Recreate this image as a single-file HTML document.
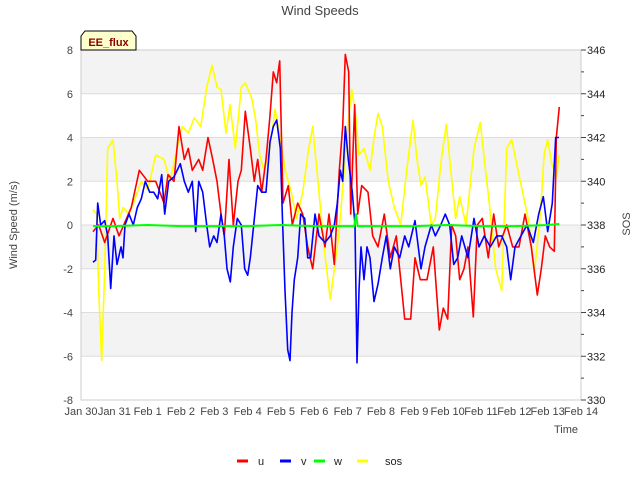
<!DOCTYPE html>
<html><head><meta charset="utf-8"><style>
body{margin:0;background:#fff;}
svg{display:block;font-family:"Liberation Sans","DejaVu Sans",sans-serif;}
</style></head><body>
<svg id="chart" width="640" height="480" xmlns="http://www.w3.org/2000/svg">
<text x="320" y="15" text-anchor="middle" font-size="13" fill="#444">Wind Speeds</text>
<g id="bands"></g><g id="grid"></g>
<rect x="81" y="50" width="500" height="350" fill="none" stroke="#ccc"/>
<g id="axes"></g>
<g id="series"></g>
<g>
<path d="M81,36 L85,31 L132,31 L136,36 L136,50 L81,50 Z" fill="#ffffcc" stroke="#000" stroke-width="1"/>
<text x="108.5" y="46" text-anchor="middle" font-size="11" font-weight="bold" fill="#8b0000">EE_flux</text>
</g>
<text transform="translate(17,225) rotate(-90)" text-anchor="middle" font-size="11" fill="#444">Wind Speed (m/s)</text>
<text transform="translate(630,224) rotate(-90)" text-anchor="middle" font-size="11" fill="#444">SOS</text>
<text x="578" y="433" text-anchor="end" font-size="11" fill="#444">Time</text>
<g id="legend"></g>
</svg>
<script>
const xTickLabels=["Jan 30","Jan 31","Feb 1","Feb 2","Feb 3","Feb 4","Feb 5","Feb 6","Feb 7","Feb 8","Feb 9","Feb 10","Feb 11","Feb 12","Feb 13","Feb 14"];
const yTicks=[-8,-6,-4,-2,0,2,4,6,8];
const y2Ticks=[330,332,334,336,338,340,342,344,346];
const uT=[.36,.53,.71,.96,1.14,1.51,1.75,2.0,2.24,2.49,2.61,2.79,2.94,3.10,3.22,3.34,3.53,3.65,3.81,3.95,4.08,4.20,4.30,4.44,4.57,4.71,4.81,4.93,5.08,5.20,5.30,5.42,5.55,5.67,5.77,5.87,5.96,6.06,6.22,6.34,6.50,6.65,6.80,6.95,7.14,7.32,7.44,7.60,7.75,7.85,7.93,8.03,8.09,8.21,8.30,8.42,8.61,8.75,8.91,9.10,9.28,9.46,9.71,9.89,10.02,10.18,10.38,10.57,10.75,10.87,11.0,11.12,11.24,11.36,11.49,11.61,11.77,11.89,12.04,12.22,12.38,12.53,12.77,12.95,13.14,13.32,13.51,13.69,13.81,13.93,14.06,14.20,14.26,14.35];
const uV=[-0.3,0,-0.8,0.3,-0.5,0.8,2.5,2,2,1,2.3,2,4.5,3,3.5,2.5,3,2.5,4,3,2,0.5,-0.5,3,0,2,2.5,5.2,3.5,2,3,1.5,3,5,7,6.5,7.5,1,1.8,0,1,0.5,-1,-2,0.5,-1,0.5,-1.8,2.5,4.5,7.8,7,0.5,5.5,0.5,1.8,1.5,-0.5,-1,0.5,-1.5,-0.5,-4.3,-4.3,-1.5,-2.5,-2.5,-1,-4.8,-3.8,-4.3,0,-0.5,-2.5,-2,-1,-4.2,0,0.3,-1.5,0.5,-1,0,-1,-1,0.5,-1,-3.2,-2,-0.5,-1,-1.2,4,5.4];
const vT=[.36,.44,.50,.59,.71,.80,.89,.99,1.08,1.20,1.26,1.32,1.44,1.57,1.69,1.81,1.93,2.06,2.18,2.30,2.42,2.51,2.63,2.79,2.98,3.10,3.22,3.34,3.44,3.53,3.65,3.77,3.86,3.98,4.08,4.20,4.30,4.38,4.48,4.57,4.69,4.81,4.91,5.00,5.08,5.18,5.30,5.42,5.55,5.67,5.77,5.87,5.98,6.04,6.12,6.20,6.27,6.33,6.40,6.50,6.59,6.71,6.80,6.89,7.02,7.14,7.32,7.48,7.60,7.69,7.78,7.85,7.93,8.02,8.14,8.22,8.28,8.34,8.40,8.49,8.58,8.67,8.79,8.91,9.04,9.16,9.28,9.40,9.56,9.71,9.83,10.02,10.20,10.32,10.51,10.63,10.79,10.93,11.06,11.18,11.30,11.42,11.61,11.79,11.94,12.10,12.28,12.47,12.62,12.77,12.89,13.02,13.20,13.38,13.57,13.73,13.87,14.00,14.14,14.24,14.34];
const vV=[-1.7,-1.6,1,0,0.2,-0.5,-2.9,-0.5,-1.8,-1,-1.5,0,0.5,0,0.8,1.2,2,1.5,1.5,1.2,2.3,0.5,2,2.2,2.8,2,1.5,2,-0.3,2,1.5,0,-1,-0.5,-0.8,0.5,-0.5,-2,-2.6,-1,0.3,0,-2,-2.3,-1.5,0,1.8,1.5,1.5,3.8,4.5,4.8,3.5,0.5,-3,-5.7,-6.2,-4,-2.5,-1.5,0.5,0.3,-1.5,-1.5,0.5,-0.5,-0.8,-0.5,0,1,2.5,2,4.5,3,1.5,0,-6.3,-3,-1,-2.5,-1,-1.5,-3.5,-2.7,-1.5,-0.5,-2,-1,-1.5,-0.5,-1,0.2,-2,-1,0,-0.5,0,0.5,0,-1.8,-1.5,-0.5,-1.5,0.3,-1,-0.5,-1,-0.5,-0.5,-1,-2.5,-1,-0.5,0,-0.8,0.5,1.3,-0.3,1,4,4];
const wT=[.36,1,2,3,4,5,6,7,8,8.2,8.25,8.3,9,10,11,12,13,14,14.35];
const wV=[-0.05,-0.05,0,-0.05,-0.05,-0.05,0,-0.05,-0.05,-0.05,0.5,-0.05,-0.05,-0.05,0,-0.05,-0.05,0,0.05];
const sT=[.36,.47,.53,.62,.71,.80,.96,1.08,1.16,1.26,1.44,1.57,1.81,2.00,2.24,2.49,2.67,2.88,3.04,3.22,3.40,3.59,3.77,3.93,4.08,4.20,4.35,4.47,4.63,4.81,4.93,5.12,5.24,5.36,5.49,5.67,5.82,5.98,6.13,6.31,6.47,6.65,6.83,6.95,7.11,7.29,7.48,7.60,7.73,7.87,8.00,8.12,8.24,8.34,8.49,8.67,8.79,8.91,9.04,9.22,9.40,9.59,9.77,9.96,10.08,10.20,10.32,10.51,10.63,10.81,10.96,11.12,11.24,11.36,11.55,11.79,11.98,12.10,12.25,12.44,12.62,12.77,12.92,13.11,13.29,13.44,13.60,13.78,13.90,14.00,14.12,14.27,14.34];
const sV=[338.7,338.5,335,331.8,336,341.5,341.9,340,338.3,338.8,338.5,339,340,339.6,341.2,341,340,341.5,342.5,342.2,342.9,342.5,344.3,345.3,344.3,344.2,342.2,343.5,341.5,344.3,344.5,343.8,342.8,341.2,340.5,341.5,343.3,342,340.5,339.5,338.3,339.5,341.5,342.5,340,337,334.6,336,337.5,340,342.5,344.2,343,341.2,341.5,340.5,342,343.1,342.5,340,338.8,338,340.5,342.8,341,339.8,340.2,338,338.3,341,342.6,340.1,338.3,339.3,338,341.5,342.7,341,339,336,335,341.5,341.9,340.5,339.2,338.1,335.8,338.5,341.3,341.9,340.8,340.2,341.2];

const NS="http://www.w3.org/2000/svg";
const X0=81,X1=581,Y0=400,Y1=50;
const xs=d=>X0+d*(X1-X0)/15;
const yL=v=>Y0-(v+8)*(Y0-Y1)/16;
const yR=v=>Y0-(v-330)*(Y0-Y1)/16;
function mk(tag,attrs,parent,text){const e=document.createElementNS(NS,tag);for(const k in attrs)e.setAttribute(k,attrs[k]);if(text!=null)e.textContent=text;parent.appendChild(e);return e;}
const bands=document.getElementById('bands'),grid=document.getElementById('grid'),axes=document.getElementById('axes'),series=document.getElementById('series'),legend=document.getElementById('legend');
[[6,8],[2,4],[-2,0],[-6,-4]].forEach(b=>{
 const r=mk('rect',{x:X0,y:yL(b[1]),width:X1-X0,height:yL(b[0])-yL(b[1]),fill:'#f3f3f3'},bands);
 
 
});
yTicks.forEach(t=>{
 const l=mk('line',{x1:X0,x2:X1,y1:yL(t),y2:yL(t),stroke:'#ddd'},grid);
 
 
 const tx=mk('text',{x:73,y:yL(t)+4,'text-anchor':'end','font-size':11,fill:'#444'},axes,String(t));
 
 
});
y2Ticks.forEach(t=>{
 mk('line',{x1:X1,x2:X1+5,y1:yR(t),y2:yR(t),stroke:'#444'},axes);
 if(t<346) mk('line',{x1:X1,x2:X1+3,y1:yR(t+1),y2:yR(t+1),stroke:'#444'},axes);
 const tx=mk('text',{x:587,y:yR(t)+4,'font-size':11,fill:'#222'},axes,String(t));
 
 
});
xTickLabels.forEach((s,i)=>{
 const tx=mk('text',{x:xs(i),y:415,'text-anchor':'middle','font-size':11,fill:'#444'},axes,s);
 
 
});
function line(T,V,ys,color,name,w){
 const d=T.map((t,i)=>(i?'L':'M')+xs(t).toFixed(1)+','+ys(V[i]).toFixed(1)).join(' ');
 const p=mk('path',{d:d,fill:'none',stroke:color,'stroke-width':w,'stroke-linejoin':'round'},series);
 
 
}
line(sT,sV,yR,'#ffff00','sos-line',1.6);
line(uT,uV,yL,'#ff0000','u-line',1.6);
line(vT,vV,yL,'#0000ff','v-line',1.6);
line(wT,wV,yL,'#00ff00','w-line',2);
[['u','#ff0000',237,258],['v','#0000ff',280,301],['w','#00ff00',314,334],['sos','#ffff00',357,385]].forEach(e=>{
 const g=mk('g',{},legend);
 
 
 mk('line',{x1:e[2],x2:e[2]+11,y1:461,y2:461,stroke:e[1],'stroke-width':3},g);
 mk('text',{x:e[3],y:465,'font-size':11,fill:'#222'},g,e[0]);
});
</script>
</body></html>
